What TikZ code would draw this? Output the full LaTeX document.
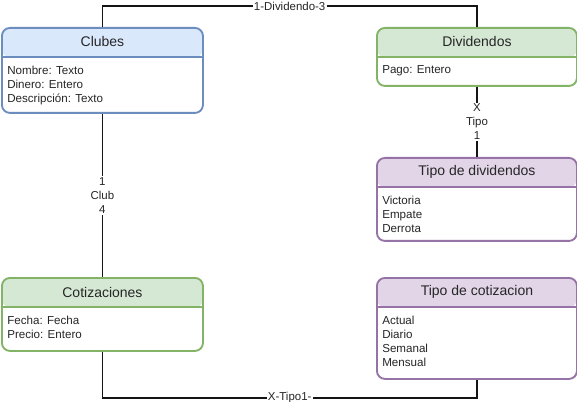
\documentclass[tikz,border=0pt]{standalone}
\usepackage{fontspec}
\setmainfont{Liberation Sans}
\usepackage{xcolor}
\usepackage{tikz}
\usetikzlibrary{positioning, calc}
\definecolor{clubfill}{RGB}{218, 232, 252}
\definecolor{clubline}{RGB}{108, 142, 191}
\definecolor{quotefill}{RGB}{213, 232, 212}
\definecolor{quoteline}{RGB}{130, 179, 102}
\definecolor{typefill}{RGB}{225, 213, 231}
\definecolor{typeline}{RGB}{150, 115, 166}
\definecolor{linkgray}{RGB}{20, 20, 20}

\begin{document}
\begin{tikzpicture}[
    x=0.75pt, y=-0.75pt,
    entity/.style 2 args={rectangle, rounded corners=6pt, draw=#2, fill=white, line width=1.4pt, minimum width=150pt, anchor=north west, inner sep=0pt,
        path picture={\fill[#1] (path picture bounding box.north west) rectangle ([yshift=-22pt]path picture bounding box.north east);
        \draw[#2, line width=1.3pt] ([yshift=-22pt]path picture bounding box.north west) -- ([yshift=-22pt]path picture bounding box.north east);}},
    title/.style={font=\fontsize{10.5}{12}\selectfont, text=black!85, inner sep=0pt},
    attrs/.style={font=\fontsize{8.7}{10.5}\selectfont, text=black!85, align=left, anchor=north west, inner sep=0pt},
    lbl/.style={font=\fontsize{8.6}{10.5}\selectfont, text=black!85, fill=white, align=center, inner sep=1pt},
    link/.style={draw=linkgray, line width=1.4pt}
]
\useasboundingbox (0,0) rectangle (577,402);
% entities
\node[entity={clubfill}{clubline}, minimum width=150.75pt, minimum height=63.75pt] (clubes) at (1,27) {};
\node[entity={quotefill}{quoteline}, minimum height=43.5pt] (dividendos) at (376,27) {};
\node[entity={typefill}{typeline}, minimum height=62.25pt] (tipodiv) at (376,157) {};
\node[entity={quotefill}{quoteline}, minimum width=150.75pt, minimum height=54.75pt] (cotizaciones) at (1,277) {};
\node[entity={typefill}{typeline}, minimum height=75.75pt] (tipocot) at (376,277) {};
% titles
\node[title] (clubes-t) at ([yshift=-11.25pt]clubes.north) {Clubes};
\node[title] (dividendos-t) at ([yshift=-11.25pt]dividendos.north) {Dividendos};
\node[title] (tipodiv-t) at ([yshift=-11.25pt]tipodiv.north) {Tipo de dividendos};
\node[title] (cotizaciones-t) at ([yshift=-11.25pt]cotizaciones.north) {Cotizaciones};
\node[title] (tipocot-t) at ([yshift=-11.25pt]tipocot.north) {Tipo de cotizacion};
% attributes
\node[attrs] (clubes-a) at ([shift={(4.5pt,-29pt)}]clubes.north west) {Nombre: Texto\\Dinero: Entero\\Descripción: Texto};
\node[attrs] (dividendos-a) at ([shift={(4.5pt,-29pt)}]dividendos.north west) {Pago: Entero};
\node[attrs] (tipodiv-a) at ([shift={(4.5pt,-29pt)}]tipodiv.north west) {Victoria\\Empate\\Derrota};
\node[attrs] (cotizaciones-a) at ([shift={(4.5pt,-29pt)}]cotizaciones.north west) {Fecha: Fecha\\Precio: Entero};
\node[attrs] (tipocot-a) at ([shift={(4.5pt,-29pt)}]tipocot.north west) {Actual\\Diario\\Semanal\\Mensual};
% relations
\draw[link] (clubes.north) -- ++(0,-21) -| node[lbl, pos=0.25] (rel-div) {1-Dividendo-3} (dividendos.north);
\draw[link] (clubes.south) -- node[lbl] (rel-club) {1\\Club\\4} (cotizaciones.north);
\draw[link] (dividendos.south) -- node[lbl] (rel-tipo) {X\\Tipo\\1} (tipodiv.north);
\draw[link] (cotizaciones.south) -- ++(0,46) -| node[lbl, pos=0.25] (rel-cot) {X-Tipo1-} (tipocot.south);
\end{tikzpicture}
\end{document}
